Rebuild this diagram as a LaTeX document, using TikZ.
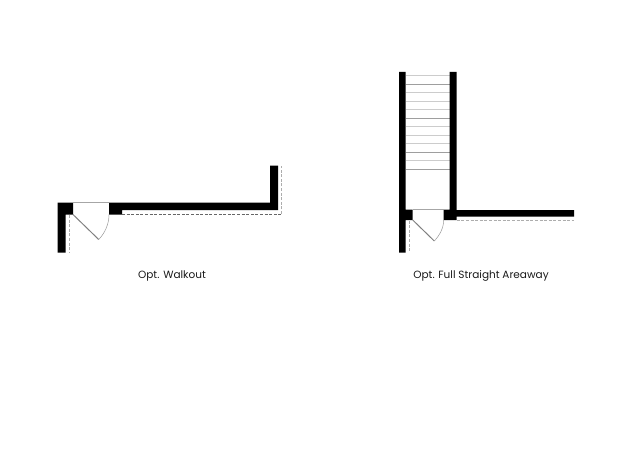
\documentclass[tikz,border=0pt]{standalone}
\usepackage{fontspec}
\setmainfont{Poppins}
\tikzset{
  wall/.style={fill=black,draw=none},
  dashline/.style={draw=black!60,line width=0.4pt,dash pattern=on 3pt off 1.6pt},
  dashlight/.style={draw=black!32,line width=0.6pt,dash pattern=on 3pt off 1.6pt},
  tread/.style={draw=black!20,line width=0.7pt},
  treaddark/.style={draw=black!38,line width=0.7pt},
  doorline/.style={draw=black!35,line width=0.6pt},
  leaf/.style={draw=black!50,line width=1pt},
  swing/.style={draw=black!40,line width=0.5pt},
  caption/.style={font=\fontsize{10.5}{12}\selectfont,text=black!90,inner sep=0pt}
}
\begin{document}
\begin{tikzpicture}[x=1pt,y=-1pt]
\useasboundingbox (0,0) rectangle (640,460);
% Opt. Walkout
\fill[wall] (57.5,202.5) -- (73,202.5) -- (73,214.5) -- (65.5,214.5) -- (65.5,252.5) -- (57.5,252.5) -- cycle;
\fill[wall] (109,202.5) -- (270,202.5) -- (270,165.5) -- (278,165.5) -- (278,210) -- (122,210) -- (122,214.5) -- (109,214.5) -- cycle;
\draw[doorline] (73,202.5) -- (109,202.5);
\draw[dashline] (122,214) -- (281,214);
\draw[dashlight] (281,214) -- (281,165.5);
\draw[dashlight] (69.3,215) -- (69.3,252.5);
\draw[leaf] (73,214.5) -- (98.7,239.5);
\draw[swing] (98.7,239.5) .. controls (105,233) and (109,224) .. (109,214.5);
% Opt. Full Straight Areaway
\foreach \y in {75.7,92.5,101,109.5,126.5,135,143.5,160.5}{\draw[tread] (405.7,\y) -- (449.7,\y);}
\foreach \y in {84.3,118,152,169}{\draw[treaddark] (405.7,\y) -- (449.7,\y);}
\fill[wall] (399,72) -- (405.7,72) -- (405.7,209.5) -- (412.7,209.5) -- (412.7,220) -- (405.7,220) -- (405.7,252.5) -- (399,252.5) -- cycle;
\fill[wall] (449.7,72) -- (456.7,72) -- (456.7,210) -- (574,210) -- (574,216.7) -- (456.7,216.7) -- (456.7,220) -- (443.7,220) -- (443.7,209.5) -- (449.7,209.5) -- cycle;
\draw[doorline] (412.7,209.5) -- (443.7,209.5);
\draw[dashlight] (456.7,220) -- (574,220);
\draw[dashlight] (409.3,220.5) -- (409.3,252.5);
\draw[leaf] (412.7,220) -- (434.3,241);
\draw[swing] (434.3,241) .. controls (439.5,235.5) and (443.7,228) .. (443.7,220);
% captions
\node[caption] (walkout) at (172,275.5) {Opt. Walkout};
\node[caption] (areaway) at (481,275.5) {Opt. Full Straight Areaway};
\end{tikzpicture}
\end{document}
